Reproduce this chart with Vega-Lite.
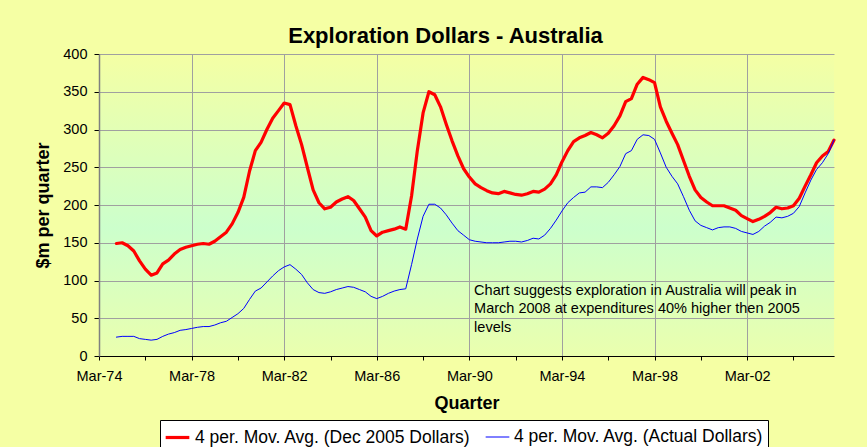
{
  "$schema": "https://vega.github.io/schema/vega-lite/v6.json",
  "width": 735,
  "height": 302,
  "autosize": {"type": "none"},
  "padding": {"left": 99, "top": 54, "right": 33, "bottom": 91},
  "background": "#F5FFA4",
  "config": {
    "font": "Liberation Sans",
    "view": {
      "stroke": null,
      "fill": {
        "gradient": "linear",
        "x1": 0, "y1": 0, "x2": 0, "y2": 1,
        "stops": [
          {"offset": 0, "color": "#F4FFA4"},
          {"offset": 0.576, "color": "#CCFFCC"},
          {"offset": 1, "color": "#EAFFAE"}
        ]
      }
    },
    "axisY": {
      "values": [0, 50, 100, 150, 200, 250, 300, 350, 400],
      "labelOverlap": false
    }
  },
  "title": {
    "text": "Exploration Dollars - Australia",
    "font": "Liberation Sans",
    "fontSize": 22,
    "fontWeight": "bold",
    "color": "#000000",
    "anchor": "middle",
    "frame": "group",
    "baseline": "alphabetic",
    "offset": 11,
    "dx": -21,
    "dy": 30
  },
  "data": {
    "values": [
      {"date": "1974-12", "real": 149, "actual": 25},
      {"date": "1975-03", "real": 150, "actual": 26},
      {"date": "1975-06", "real": 146, "actual": 26},
      {"date": "1975-09", "real": 139, "actual": 26},
      {"date": "1975-12", "real": 126, "actual": 23},
      {"date": "1976-03", "real": 115, "actual": 22},
      {"date": "1976-06", "real": 107, "actual": 21},
      {"date": "1976-09", "real": 110, "actual": 22},
      {"date": "1976-12", "real": 122, "actual": 26},
      {"date": "1977-03", "real": 127, "actual": 29},
      {"date": "1977-06", "real": 135, "actual": 31},
      {"date": "1977-09", "real": 141, "actual": 34},
      {"date": "1977-12", "real": 144, "actual": 35},
      {"date": "1978-03", "real": 146, "actual": 36.5},
      {"date": "1978-06", "real": 148, "actual": 38},
      {"date": "1978-09", "real": 149, "actual": 39},
      {"date": "1978-12", "real": 148, "actual": 39},
      {"date": "1979-03", "real": 152, "actual": 41},
      {"date": "1979-06", "real": 158, "actual": 44},
      {"date": "1979-09", "real": 164, "actual": 46},
      {"date": "1979-12", "real": 175, "actual": 51},
      {"date": "1980-03", "real": 190, "actual": 56},
      {"date": "1980-06", "real": 210, "actual": 63},
      {"date": "1980-09", "real": 245, "actual": 75},
      {"date": "1980-12", "real": 272, "actual": 86},
      {"date": "1981-03", "real": 283, "actual": 90},
      {"date": "1981-06", "real": 300, "actual": 98},
      {"date": "1981-09", "real": 315, "actual": 106},
      {"date": "1981-12", "real": 325, "actual": 113},
      {"date": "1982-03", "real": 335, "actual": 118},
      {"date": "1982-06", "real": 333, "actual": 121},
      {"date": "1982-09", "real": 305, "actual": 115},
      {"date": "1982-12", "real": 280, "actual": 108},
      {"date": "1983-03", "real": 250, "actual": 97},
      {"date": "1983-06", "real": 220, "actual": 88},
      {"date": "1983-09", "real": 203, "actual": 84},
      {"date": "1983-12", "real": 195, "actual": 83},
      {"date": "1984-03", "real": 197, "actual": 85},
      {"date": "1984-06", "real": 204, "actual": 88},
      {"date": "1984-09", "real": 208, "actual": 90},
      {"date": "1984-12", "real": 211, "actual": 92},
      {"date": "1985-03", "real": 206, "actual": 91},
      {"date": "1985-06", "real": 195, "actual": 88},
      {"date": "1985-09", "real": 184, "actual": 85},
      {"date": "1985-12", "real": 166, "actual": 79},
      {"date": "1986-03", "real": 159, "actual": 76},
      {"date": "1986-06", "real": 164, "actual": 79},
      {"date": "1986-09", "real": 166, "actual": 83},
      {"date": "1986-12", "real": 168, "actual": 86},
      {"date": "1987-03", "real": 171, "actual": 88},
      {"date": "1987-06", "real": 168, "actual": 89},
      {"date": "1987-09", "real": 212, "actual": 121},
      {"date": "1987-12", "real": 272, "actual": 155},
      {"date": "1988-03", "real": 322, "actual": 185},
      {"date": "1988-06", "real": 350, "actual": 201},
      {"date": "1988-09", "real": 346, "actual": 201},
      {"date": "1988-12", "real": 330, "actual": 196},
      {"date": "1989-03", "real": 307, "actual": 187},
      {"date": "1989-06", "real": 285, "actual": 176},
      {"date": "1989-09", "real": 265, "actual": 166},
      {"date": "1989-12", "real": 248, "actual": 160},
      {"date": "1990-03", "real": 237, "actual": 154},
      {"date": "1990-06", "real": 228, "actual": 152},
      {"date": "1990-09", "real": 223, "actual": 151},
      {"date": "1990-12", "real": 219, "actual": 150},
      {"date": "1991-03", "real": 216, "actual": 150},
      {"date": "1991-06", "real": 215, "actual": 150},
      {"date": "1991-09", "real": 218, "actual": 151},
      {"date": "1991-12", "real": 216, "actual": 152},
      {"date": "1992-03", "real": 214, "actual": 152},
      {"date": "1992-06", "real": 213, "actual": 151},
      {"date": "1992-09", "real": 215, "actual": 153},
      {"date": "1992-12", "real": 218, "actual": 156},
      {"date": "1993-03", "real": 217, "actual": 155},
      {"date": "1993-06", "real": 221, "actual": 160},
      {"date": "1993-09", "real": 228, "actual": 169},
      {"date": "1993-12", "real": 240, "actual": 180},
      {"date": "1994-03", "real": 257, "actual": 192},
      {"date": "1994-06", "real": 272, "actual": 203},
      {"date": "1994-09", "real": 284, "actual": 210},
      {"date": "1994-12", "real": 289, "actual": 216},
      {"date": "1995-03", "real": 292, "actual": 217},
      {"date": "1995-06", "real": 296, "actual": 224},
      {"date": "1995-09", "real": 293, "actual": 224},
      {"date": "1995-12", "real": 289, "actual": 223},
      {"date": "1996-03", "real": 295, "actual": 230},
      {"date": "1996-06", "real": 305, "actual": 240},
      {"date": "1996-09", "real": 318, "actual": 251},
      {"date": "1996-12", "real": 337, "actual": 268},
      {"date": "1997-03", "real": 341, "actual": 272},
      {"date": "1997-06", "real": 360, "actual": 287},
      {"date": "1997-09", "real": 369, "actual": 293},
      {"date": "1997-12", "real": 366, "actual": 292},
      {"date": "1998-03", "real": 362, "actual": 287},
      {"date": "1998-06", "real": 330, "actual": 269},
      {"date": "1998-09", "real": 311, "actual": 250},
      {"date": "1998-12", "real": 295, "actual": 238},
      {"date": "1999-03", "real": 280, "actual": 228},
      {"date": "1999-06", "real": 259, "actual": 211},
      {"date": "1999-09", "real": 238, "actual": 193},
      {"date": "1999-12", "real": 220, "actual": 179},
      {"date": "2000-03", "real": 210, "actual": 173},
      {"date": "2000-06", "real": 204, "actual": 170},
      {"date": "2000-09", "real": 199, "actual": 167},
      {"date": "2000-12", "real": 199, "actual": 170},
      {"date": "2001-03", "real": 199, "actual": 171},
      {"date": "2001-06", "real": 196, "actual": 171},
      {"date": "2001-09", "real": 193, "actual": 169},
      {"date": "2001-12", "real": 186, "actual": 165},
      {"date": "2002-03", "real": 182, "actual": 163},
      {"date": "2002-06", "real": 178, "actual": 161},
      {"date": "2002-09", "real": 181, "actual": 165},
      {"date": "2002-12", "real": 185, "actual": 172},
      {"date": "2003-03", "real": 190, "actual": 177},
      {"date": "2003-06", "real": 197, "actual": 184},
      {"date": "2003-09", "real": 195, "actual": 183},
      {"date": "2003-12", "real": 196, "actual": 185},
      {"date": "2004-03", "real": 199, "actual": 189},
      {"date": "2004-06", "real": 209, "actual": 198},
      {"date": "2004-09", "real": 225, "actual": 216},
      {"date": "2004-12", "real": 240, "actual": 233},
      {"date": "2005-03", "real": 256, "actual": 247},
      {"date": "2005-06", "real": 265, "actual": 256},
      {"date": "2005-09", "real": 271, "actual": 268},
      {"date": "2005-12", "real": 286, "actual": 286}
    ]
  },
  "layer": [
    {
      "transform": [{"fold": ["real", "actual"], "as": ["series", "value"]}],
      "mark": {"type": "line", "strokeJoin": "round", "strokeCap": "round"},
      "encoding": {
        "x": {
          "field": "date",
          "type": "temporal",
          "scale": {
            "type": "utc",
            "domain": [
              {"year": 1974, "month": 3, "date": 1, "utc": true},
              {"year": 2005, "month": 12, "date": 1, "utc": true}
            ],
            "nice": false
          },
          "axis": {
            "title": "Quarter",
            "titleFont": "Liberation Sans",
            "titleFontSize": 18,
            "titleFontWeight": "bold",
            "titleColor": "#000000",
            "titlePadding": 12,
            "values": [
              {"year": 1974, "month": 3, "date": 1, "utc": true},
              {"year": 1975, "month": 3, "date": 1, "utc": true},
              {"year": 1976, "month": 3, "date": 1, "utc": true},
              {"year": 1977, "month": 3, "date": 1, "utc": true},
              {"year": 1978, "month": 3, "date": 1, "utc": true},
              {"year": 1979, "month": 3, "date": 1, "utc": true},
              {"year": 1980, "month": 3, "date": 1, "utc": true},
              {"year": 1981, "month": 3, "date": 1, "utc": true},
              {"year": 1982, "month": 3, "date": 1, "utc": true},
              {"year": 1983, "month": 3, "date": 1, "utc": true},
              {"year": 1984, "month": 3, "date": 1, "utc": true},
              {"year": 1985, "month": 3, "date": 1, "utc": true},
              {"year": 1986, "month": 3, "date": 1, "utc": true},
              {"year": 1987, "month": 3, "date": 1, "utc": true},
              {"year": 1988, "month": 3, "date": 1, "utc": true},
              {"year": 1989, "month": 3, "date": 1, "utc": true},
              {"year": 1990, "month": 3, "date": 1, "utc": true},
              {"year": 1991, "month": 3, "date": 1, "utc": true},
              {"year": 1992, "month": 3, "date": 1, "utc": true},
              {"year": 1993, "month": 3, "date": 1, "utc": true},
              {"year": 1994, "month": 3, "date": 1, "utc": true},
              {"year": 1995, "month": 3, "date": 1, "utc": true},
              {"year": 1996, "month": 3, "date": 1, "utc": true},
              {"year": 1997, "month": 3, "date": 1, "utc": true},
              {"year": 1998, "month": 3, "date": 1, "utc": true},
              {"year": 1999, "month": 3, "date": 1, "utc": true},
              {"year": 2000, "month": 3, "date": 1, "utc": true},
              {"year": 2001, "month": 3, "date": 1, "utc": true},
              {"year": 2002, "month": 3, "date": 1, "utc": true},
              {"year": 2003, "month": 3, "date": 1, "utc": true},
              {"year": 2004, "month": 3, "date": 1, "utc": true},
              {"year": 2005, "month": 3, "date": 1, "utc": true}
            ],
            "labelExpr": "(utcyear(datum.value) - 1974) % 4 == 0 ? utcFormat(datum.value, '%b-%y') : ''",
            "labelFont": "Liberation Sans",
            "labelFontSize": 14.5,
            "labelColor": "#000000",
            "labelFlush": false,
            "labelOverlap": false,
            "labelPadding": 9,
            "tickSize": 4,
            "tickColor": "#000000",
            "domainColor": "#000000",
            "grid": true,
            "gridColor": "#A0A0A0",
            "gridWidth": 1,
            "gridOpacity": {"condition": {"test": "(utcyear(datum.value) - 1974) % 4 == 0 && utcyear(datum.value) > 1974", "value": 1}, "value": 0}
          }
        },
        "y": {
          "field": "value",
          "type": "quantitative",
          "scale": {"domain": [0, 400], "nice": false},
          "axis": {
            "title": "$m per quarter",
            "titleFont": "Liberation Sans",
            "titleFontSize": 18,
            "titleFontWeight": "bold",
            "titleColor": "#000000",
            "titlePadding": 10,
            "values": [0, 50, 100, 150, 200, 250, 300, 350, 400],
            "labelOverlap": false,
            "labelFont": "Liberation Sans",
            "labelFontSize": 14.5,
            "labelColor": "#000000",
            "labelPadding": 7,
            "tickSize": 5,
            "tickColor": "#000000",
            "domainColor": "#808080",
            "domainWidth": 1.5,
            "grid": true,
            "gridColor": "#A0A0A0",
            "gridWidth": 1
          }
        },
        "color": {
          "field": "series",
          "type": "nominal",
          "scale": {"domain": ["real", "actual"], "range": ["#FF0000", "#0000FF"]},
          "legend": {
            "title": null,
            "orient": "none",
            "direction": "horizontal",
            "legendX": 61,
            "legendY": 366,
            "fillColor": "#FFFFFF",
            "strokeColor": "#000000",
            "padding": 4,
            "symbolType": "stroke",
            "symbolSize": 560,
            "labelFont": "Liberation Sans",
            "labelFontSize": 17.5,
            "labelColor": "#000000",
            "labelOffset": 4,
            "labelLimit": 500,
            "columnPadding": 12,
            "labelExpr": "datum.label == 'real' ? '4 per. Mov. Avg. (Dec 2005 Dollars)' : '4 per. Mov. Avg. (Actual Dollars)'"
          }
        },
        "strokeWidth": {
          "field": "series",
          "type": "nominal",
          "scale": {"domain": ["real", "actual"], "range": [3.2, 1]},
          "legend": {
            "title": null,
            "orient": "none",
            "direction": "horizontal",
            "legendX": 61,
            "legendY": 366,
            "fillColor": "#FFFFFF",
            "strokeColor": "#000000",
            "padding": 4,
            "symbolType": "stroke",
            "symbolSize": 560,
            "labelFont": "Liberation Sans",
            "labelFontSize": 17.5,
            "labelColor": "#000000",
            "labelOffset": 4,
            "labelLimit": 500,
            "columnPadding": 12,
            "labelExpr": "datum.label == 'real' ? '4 per. Mov. Avg. (Dec 2005 Dollars)' : '4 per. Mov. Avg. (Actual Dollars)'"
          }
        }
      }
    },
    {
      "data": {"values": [{"note": "annotation"}]},
      "mark": {
        "type": "text",
        "align": "left",
        "baseline": "top",
        "font": "Liberation Sans",
        "fontSize": 14.5,
        "lineHeight": 18.5,
        "color": "#000000"
      },
      "encoding": {
        "x": {"datum": {"year": 1990, "month": 5, "date": 15, "utc": true}, "type": "temporal"},
        "y": {
          "datum": 96,
          "type": "quantitative",
          "axis": {"values": [0, 50, 100, 150, 200, 250, 300, 350, 400], "labelOverlap": false}
        },
        "text": {"value": ["Chart suggests exploration in Australia will peak in", "March 2008 at expenditures 40% higher then 2005", "levels"]}
      }
    }
  ]
}
